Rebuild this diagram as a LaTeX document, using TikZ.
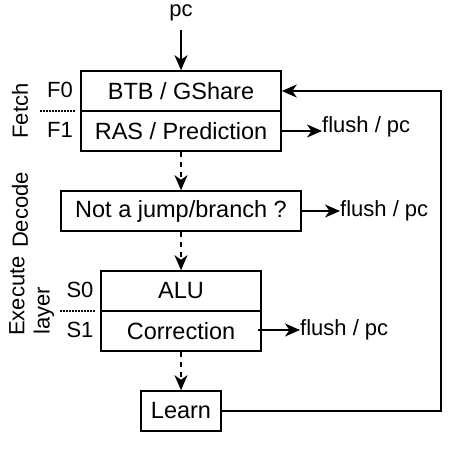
\documentclass[tikz,border=0pt]{standalone}
\usepackage{fontspec}
\setmainfont{Liberation Sans}
\usetikzlibrary{arrows.meta}
\begin{document}
\begin{tikzpicture}[x=1pt,y=-1pt,
  every node/.style={font=\fontsize{23.5}{28}\selectfont, inner sep=0pt},
  box/.style={draw, line width=1.6pt, minimum width=#1, minimum height=40pt},
  lbl/.style={font=\fontsize{22}{26}\selectfont},
  arr/.style={line width=1.6pt, -{Stealth[length=15pt,width=13pt,inset=4.5pt]}},
  darr/.style={arr, dash pattern=on 5pt off 5pt},
  dots/.style={line width=1.6pt, dash pattern=on 1.5pt off 1.5pt}]
\useasboundingbox (0,0) rectangle (456,448);
% pc
\node[lbl] (pc) at (181,13) {pc};
% Fetch
\node[box=200pt] (f0) at (181,91) {BTB / GShare};
\node[box=200pt] (f1) at (181,131) {RAS / Prediction};
\node[lbl] (lf0) at (60,90) {F0};
\node[lbl] (lf1) at (60,130) {F1};
\coordinate (fd1) at (40,111);
\coordinate (fd2) at (76,111);
\draw[dots] (fd1) -- (fd2);
\node[lbl, rotate=90] (fetch) at (20,111) {Fetch};
% Decode
\node[box=240pt] (dec) at (181,211) {Not a jump/branch ?};
\node[lbl, rotate=90] (decode) at (20,210) {Decode};
% Execute
\node[box=160pt] (s0) at (181,291) {ALU};
\node[box=160pt] (s1) at (181,331) {Correction};
\node[lbl] (ls0) at (80,290) {S0};
\node[lbl] (ls1) at (80,330) {S1};
\coordinate (sd1) at (60,311);
\coordinate (sd2) at (96,311);
\draw[dots] (sd1) -- (sd2);
\node[lbl, rotate=90] (exec) at (17,296) {Execute};
\node[lbl, rotate=90] (layer) at (44,311) {layer};
% Learn
\node[box=80pt] (learn) at (181,411) {Learn};
% flush labels
\node[lbl, anchor=west] (fl1) at (322,127) {flush / pc};
\node[lbl, anchor=west] (fl2) at (340,211) {flush / pc};
\node[lbl, anchor=west] (fl3) at (300,330) {flush / pc};
% arrows
\coordinate (pcs) at (181,30);
\draw[arr] (pcs) -- (f0.north);
\draw[arr] (f1.east) -- (f1.east -| fl1.west);
\draw[arr] (dec.east) -- (fl2.west);
\coordinate (cs) at (258,330);
\draw[arr] (cs) -- (fl3.west);
\draw[darr] (f1.south) -- (dec.north);
\draw[darr] (dec.south) -- (s0.north);
\draw[darr] (s1.south) -- (learn.north);
\coordinate (c1) at (441,411);
\coordinate (c2) at (441,91);
\draw[arr] (learn.east) -- (c1) -- (c2) -- (f0.east);
\end{tikzpicture}
\end{document}
